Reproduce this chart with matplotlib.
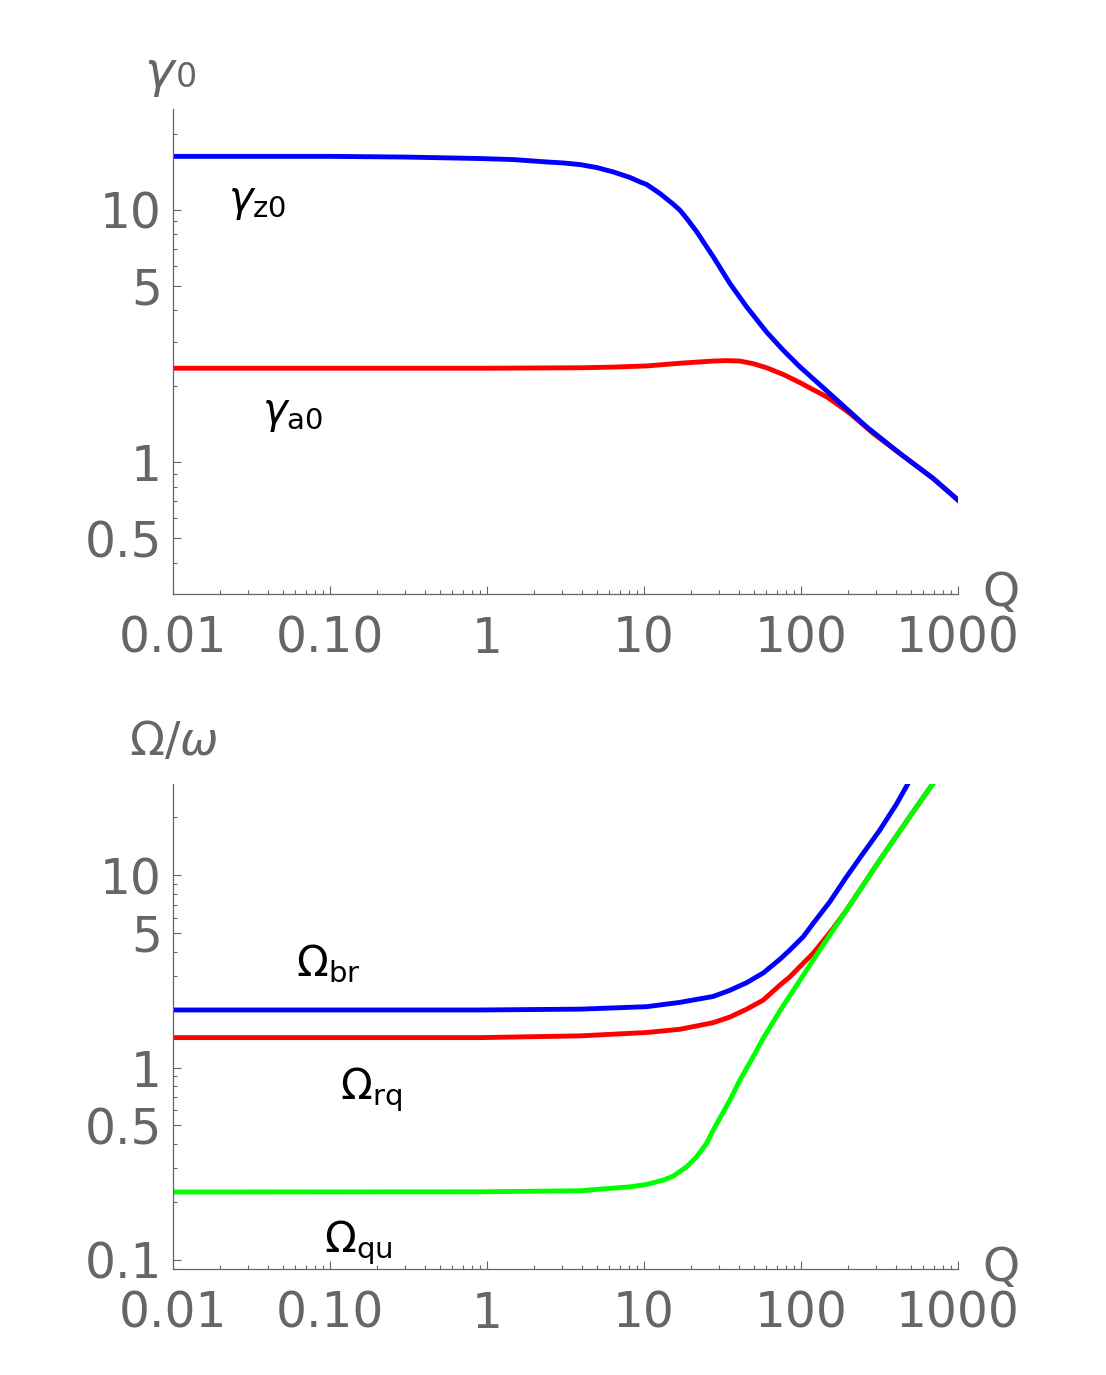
import matplotlib
matplotlib.use("Agg")
import matplotlib.pyplot as plt
from matplotlib.ticker import FixedLocator, FixedFormatter, LogLocator, NullFormatter

# Dados (escala log-log)
# -------------------------------------
# Painel superior: gamma_z0 (azul) e gamma_a0 (vermelho) em função de Q
q_z0 = [0.01, 0.1, 0.3, 0.90, 1.47, 2.40, 3.06, 3.92, 5.0, 6.38, 8.15, 9.43, 10.4,
        12.65, 15.37, 16.95, 18.7, 21.65, 27.61, 35.27, 45.06, 60.4, 77.1, 98.4,
        160.3, 261.6, 426, 694, 1000]
gamma_z0 = [16.3, 16.3, 16.2, 15.98, 15.83, 15.49, 15.35, 15.12, 14.72, 14.14, 13.44,
            12.91, 12.61, 11.61, 10.53, 9.97, 9.25, 8.2, 6.52, 5.11, 4.13, 3.28, 2.78,
            2.39, 1.82, 1.383, 1.085, 0.864, 0.709]

q_a0 = [0.01, 1.0, 3.92, 6.4, 10.4, 16.95, 22.7, 27.6, 33.6, 40.8, 49.6, 60.4, 77.1,
        98.4, 119.6, 145.5, 172.5, 204.8, 288, 426, 694, 1000]
gamma_a0 = [2.36, 2.36, 2.37, 2.385, 2.41, 2.47, 2.50, 2.52, 2.53, 2.52, 2.46, 2.37,
            2.23, 2.07, 1.94, 1.82, 1.69, 1.563, 1.303, 1.085, 0.864, 0.709]

# Painel inferior: Omega_br (azul), Omega_rq (vermelho), Omega_qu (verde)
q_br = [0.01, 0.90, 3.92, 10.4, 16.95, 27.6, 35.3, 45.1, 57.5, 73.4, 85.0, 103.3,
        119.6, 152.8, 195.1, 248.9, 317.9, 406.1, 481.3]
omega_br = [1.99, 1.99, 2.01, 2.07, 2.18, 2.34, 2.52, 2.76, 3.10, 3.65, 4.08, 4.78,
            5.61, 7.27, 9.80, 12.97, 17.13, 23.4, 29.95]

q_rq = [0.01, 0.90, 3.92, 10.4, 16.95, 27.6, 35.3, 45.1, 57.5, 73.4, 85.0, 103.3,
        119.6, 160.6, 195.1, 248.9, 317.9, 517.9, 694]
omega_rq = [1.43, 1.43, 1.46, 1.52, 1.58, 1.71, 1.83, 2.01, 2.24, 2.68, 2.96, 3.48,
            3.92, 5.29, 6.58, 8.87, 11.97, 21.3, 29.95]

q_qu = [0.01, 0.90, 3.92, 8.15, 10.4, 13.27, 15.37, 18.7, 21.65, 25.06, 27.6, 35.3,
        40.8, 49.6, 57.5, 73.4, 119.6, 195.1, 248.9, 317.9, 517.9, 694]
omega_qu = [0.2255, 0.226, 0.229, 0.240, 0.247, 0.260, 0.273, 0.305, 0.344, 0.404,
            0.473, 0.678, 0.861, 1.138, 1.42, 1.97, 3.62, 6.58, 8.87, 11.97, 21.3, 29.95]

# Ticks
x_ticks = [0.01, 0.1, 1, 10, 100, 1000]
x_tick_labels = ["0.01", "0.10", "1", "10", "100", "1000"]
top_y_ticks = [0.5, 1, 5, 10]
top_y_labels = ["0.5", "1", "5", "10"]
bottom_y_ticks = [0.1, 0.5, 1, 5, 10]
bottom_y_labels = ["0.1", "0.5", "1", "5", "10"]

GRAY = "#666666"
LW = 3.5


# Aplica o estilo "Mathematica" em um eixo
def style_axis(ax, y_ticks, y_labels, ylim):
    ax.set_xscale("log")
    ax.set_yscale("log")
    ax.set_xlim(0.01, 1000)
    ax.set_ylim(*ylim)
    for side in ["top", "right"]:
        ax.spines[side].set_visible(False)
    for side in ["left", "bottom"]:
        ax.spines[side].set_color(GRAY)
        ax.spines[side].set_linewidth(0.9)

    ax.xaxis.set_major_locator(FixedLocator(x_ticks))
    ax.xaxis.set_major_formatter(FixedFormatter(x_tick_labels))
    ax.xaxis.set_minor_locator(LogLocator(base=10, subs=range(2, 10), numticks=20))
    ax.xaxis.set_minor_formatter(NullFormatter())

    ax.yaxis.set_major_locator(FixedLocator(y_ticks))
    ax.yaxis.set_major_formatter(FixedFormatter(y_labels))
    ax.yaxis.set_minor_locator(LogLocator(base=10, subs=range(2, 10), numticks=20))
    ax.yaxis.set_minor_formatter(NullFormatter())

    ax.tick_params(which="both", direction="in", color=GRAY, width=0.8,
                   labelcolor=GRAY, labelsize=35)
    ax.tick_params(which="major", length=6)
    ax.tick_params(which="minor", length=3)
    ax.tick_params(axis="x", which="major", pad=15)
    ax.tick_params(axis="y", which="major", pad=8)


fig = plt.figure(figsize=(11.06, 13.75), dpi=100)

# Painel superior
ax1 = fig.add_axes([0.1564, 0.568, 0.7098, 0.3527])
ax1.plot(q_a0, gamma_a0, color="#ff0000", lw=LW)
ax1.plot(q_z0, gamma_z0, color="#0000ff", lw=LW)
style_axis(ax1, top_y_ticks, top_y_labels, (0.301, 25.1))
# rótulo do eixo y: gamma grande + "0" menor
ax1.text(0.006, 1.045, r"$\gamma$", transform=ax1.transAxes, ha="right",
         va="baseline", fontsize=36, color=GRAY)
ax1.text(0.003, 1.045, "0", transform=ax1.transAxes, ha="left",
         va="baseline", fontsize=24, color=GRAY)
ax1.text(1.031, -0.025, "Q", transform=ax1.transAxes, ha="left",
         va="baseline", fontsize=34, color=GRAY)
ax1.text(0.0224, 10.8, r"$\gamma_{\mathrm{z0}}$", ha="left", va="center",
         fontsize=30, color="black")
ax1.text(0.037, 1.567, r"$\gamma_{\mathrm{a0}}$", ha="left", va="center",
         fontsize=30, color="black")

# Painel inferior
ax2 = fig.add_axes([0.1564, 0.0771, 0.7098, 0.3527])
ax2.plot(q_br, omega_br, color="#0000ff", lw=LW)
ax2.plot(q_rq, omega_rq, color="#ff0000", lw=LW)
ax2.plot(q_qu, omega_qu, color="#00ff00", lw=LW)
style_axis(ax2, bottom_y_ticks, bottom_y_labels, (0.0898, 29.7))
ax2.text(0.0, 1.06, r"$\Omega/\omega$", transform=ax2.transAxes, ha="center",
         va="baseline", fontsize=33, color=GRAY)
ax2.text(1.031, -0.025, "Q", transform=ax2.transAxes, ha="left",
         va="baseline", fontsize=34, color=GRAY)
ax2.text(0.061, 3.45, r"$\Omega_{\mathrm{br}}$", ha="left", va="center",
         fontsize=30, color="black")
ax2.text(0.116, 0.764, r"$\Omega_{\mathrm{rq}}$", ha="left", va="center",
         fontsize=30, color="black")
ax2.text(0.092, 0.1225, r"$\Omega_{\mathrm{qu}}$", ha="left", va="center",
         fontsize=30, color="black")

fig.savefig("out.png", dpi=100)
